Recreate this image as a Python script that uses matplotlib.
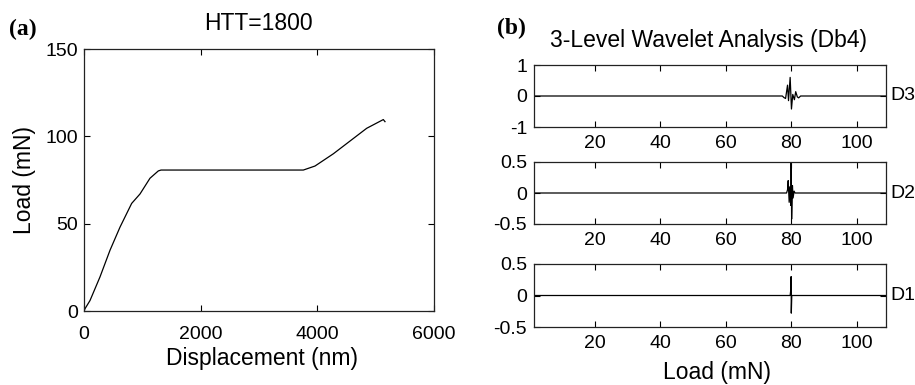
import numpy as np
import matplotlib
matplotlib.use("Agg")
import matplotlib.pyplot as plt

plt.rcParams['font.family'] = ['Liberation Sans', 'DejaVu Sans']

# (a) load-displacement curve
disp = [0, 17, 103, 274, 446, 617, 817, 960, 1131, 1274, 1320, 3760, 3960,
        4274, 4846, 5131, 5160]
load = [0, 1.3, 6, 19.5, 34.8, 48, 61.6, 67, 76, 80.2, 80.7, 80.7, 83,
        90, 104.6, 109.6, 108.4]

# (b) wavelet details D3, D2, D1 vs load (mN)
d3_x = [1.4, 77.3, 77.8, 78.3, 78.9, 79.2, 79.7, 80.1, 80.5, 81.0, 81.4, 81.9,
        82.3, 82.9, 109]
d3_y = [0, 0, -0.05, -0.08, 0.35, -0.15, 0.6, -0.42, 0.05, -0.12, 0.14, -0.03,
        -0.06, 0, 0]
d2_x = [1.4, 78.6, 78.9, 79.1, 79.4, 79.6, 79.9, 80.0, 80.15, 80.4, 80.6, 80.9,
        81.2, 109]
d2_y = [0, 0, 0.05, 0.2, -0.15, 0.1, -0.2, 0.75, -0.42, 0.12, -0.08, 0.03, 0, 0]
d1_x = [1.4, 79.7, 79.85, 79.95, 80.0, 80.05, 80.2, 109]
d1_y = [0, 0, 0.07, 0.02, 0.3, -0.28, 0, 0]

details = [("D3", d3_x, d3_y, (-1, 1), [-1, 0, 1]),
           ("D2", d2_x, d2_y, (-0.5, 0.5), [-0.5, 0, 0.5]),
           ("D1", d1_x, d1_y, (-0.5, 0.5), [-0.5, 0, 0.5])]
load_ticks = [20, 40, 60, 80, 100]

fig = plt.figure(figsize=(9.15, 3.85), dpi=100)


def style(ax, fs):
    ax.tick_params(direction="in", top=True, right=True, length=4, width=0.8,
                   labelsize=fs, colors="black")
    for s in ax.spines.values():
        s.set_linewidth(0.9)
        s.set_color("#222222")


# ---- panel (a)
ax = fig.add_axes([84 / 915, 1 - 311 / 385, 350 / 915, 262 / 385])
ax.plot(disp, load, color="black", lw=0.9)
ax.set_xlim(0, 6000)
ax.set_ylim(0, 150)
ax.set_xticks([0, 2000, 4000, 6000])
ax.set_yticks([0, 50, 100, 150])
style(ax, 14)
ax.tick_params(axis="x", pad=11)
ax.tick_params(axis="y", pad=4)
fig.text(24 / 915, 1 - 180 / 385, "Load (mN)", rotation=90, ha="center",
         va="center", fontsize=16.5)
fig.text(262 / 915, 1 - 359 / 385, "Displacement (nm)", ha="center",
         va="center", fontsize=16.5)
fig.text(258 / 915, 1 - 24 / 385, "HTT=1800", ha="center", va="center",
         fontsize=16.5)
fig.text(23 / 915, 1 - 29 / 385, "(a)", ha="center", va="center",
         fontsize=17, fontweight="bold", family="Liberation Serif")

# ---- panel (b)
rows = [(65, 127), (162, 224), (264, 327)]
for (name, xs, ys, ylim, yt), (top, bot) in zip(details, rows):
    axb = fig.add_axes([534 / 915, 1 - bot / 385, 352 / 915, (bot - top) / 385])
    axb.plot(xs, ys, color="black", lw=0.9)
    axb.set_xlim(1.4, 109)
    axb.set_ylim(*ylim)
    axb.set_xticks(load_ticks)
    axb.set_yticks(yt)
    axb.set_yticklabels([f"{v:g}" for v in yt])
    style(axb, 14)
    axb.tick_params(axis="x", pad=6)
    axb.tick_params(axis="y", pad=5)
    axb.text(1.012, 0.5, name, transform=axb.transAxes, ha="left",
             va="center", fontsize=14)

fig.text(717 / 915, 1 - 373 / 385, "Load (mN)", ha="center", va="center",
         fontsize=16.5)
fig.text(708 / 915, 1 - 41 / 385, "3-Level Wavelet Analysis (Db4)",
         ha="center", va="center", fontsize=16.5)
fig.text(511 / 915, 1 - 28 / 385, "(b)", ha="center", va="center",
         fontsize=17, fontweight="bold", family="Liberation Serif")

fig.savefig("out.png", dpi=100)
